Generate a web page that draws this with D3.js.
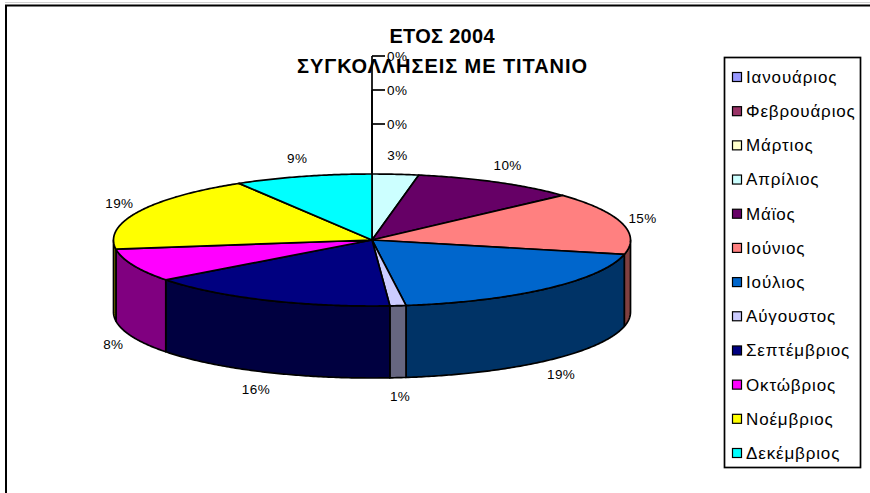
<!DOCTYPE html>
<html><head><meta charset="utf-8">
<script src="https://cdn.jsdelivr.net/npm/d3@7"></script>
<style>html,body{margin:0;padding:0;background:#fff;}svg{display:block;}</style>
</head><body>
<svg id="chart" width="870" height="493"></svg>
<script>
// ---- data ----
const months = ["Ιανουάριος","Φεβρουάριος","Μάρτιος","Απρίλιος","Μάϊος","Ιούνιος","Ιούλιος","Αύγουστος","Σεπτέμβριος","Οκτώβριος","Νοέμβριος","Δεκέμβριος"];
// shares in % (labels show rounded values)
const values = [0,0,0,2.9,10.3,15.3,19.4,1.0,15.8,8.1,18.6,8.6];
const colors = ["#9999FF","#993366","#FFFFCC","#CCFFFF","#660066","#FF8080","#0066CC","#CCCCFF","#000080","#FF00FF","#FFFF00","#00FFFF"];
const titleLines = ["ΕΤΟΣ 2004","ΣΥΓΚΟΛΛΗΣΕΙΣ ΜΕ ΤΙΤΑΝΙΟ"];

// ---- layout ----
const svg = d3.select("#chart");
const font = "'Liberation Sans', Arial, sans-serif";
const cx = 372, cy = 240, rx = 258.5, ry = 66, depth = 72;

// outer chart frame
svg.append("line").attr("x1",5).attr("x2",870).attr("y1",2.5).attr("y2",2.5).attr("stroke","#d0d0d0").attr("stroke-width",1);
svg.append("rect").attr("x",6).attr("y",5.5).attr("width",900).attr("height",520)
  .attr("fill","none").attr("stroke","#000").attr("stroke-width",2);

// title
const titleW = [105, 290];
svg.append("g").selectAll("text").data(titleLines).join("text")
  .attr("x",442).attr("y",(d,i)=>43+i*30).attr("text-anchor","middle")
  .attr("font-family",font).attr("font-weight","bold").attr("font-size",20)
  .attr("textLength",(d,i)=>titleW[i]).attr("lengthAdjust","spacing")
  .text(d=>d);

const pie = d3.pie().sort(null).value(d=>d).startAngle(0).endAngle(2*Math.PI);
const arcs = pie(values).map((a,i)=>({...a, i}));

const ex = t => cx + rx*Math.sin(t);
const ey = t => cy - ry*Math.cos(t);
function arcPts(a,b,dy){
  const n = Math.max(2, Math.ceil(Math.abs(b-a)/0.01));
  const pts=[];
  for(let k=0;k<=n;k++){const t=a+(b-a)*k/n; pts.push([ex(t), ey(t)+dy]);}
  return pts;
}
const line = d3.line();
const darker = c => { const r=d3.rgb(c); return d3.rgb(r.r/2, r.g/2, r.b/2).toString(); };

// side walls (front half only)
const gSide = svg.append("g");
arcs.forEach(a=>{
  if(a.value<=0) return;
  const s = Math.max(a.startAngle, Math.PI/2), e = Math.min(a.endAngle, 3*Math.PI/2);
  if(s>=e) return;
  const pts = arcPts(s,e,0).concat(arcPts(e,s,depth));
  gSide.append("path").attr("d", line(pts)+"Z")
    .attr("fill", darker(colors[a.i])).attr("stroke","#000").attr("stroke-width",1.7).attr("stroke-linejoin","round");
});

// top faces
const gTop = svg.append("g");
arcs.forEach(a=>{
  if(a.value<=0) return;
  const pts = [[cx,cy]].concat(arcPts(a.startAngle,a.endAngle,0));
  gTop.append("path").attr("d", line(pts)+"Z")
    .attr("fill", colors[a.i]).attr("stroke","#000").attr("stroke-width",1.7).attr("stroke-linejoin","round");
});

// labels
const gLab = svg.append("g").attr("font-family",font).attr("font-size",13.5).attr("letter-spacing",0.4).attr("fill","#000");
const LRx = 280, LRy = 85;
let zeroIdx = 0;
const zeroCount = values.filter(v=>v===0).length;
arcs.forEach(a=>{
  const txt = Math.round(a.value)+"%";
  if(a.value===0){
    const k = zeroCount-1-zeroIdx; zeroIdx++;
    const y = ey(0) - 50 - k*34;
    gLab.append("line").attr("x1",cx).attr("x2",cx+13).attr("y1",y).attr("y2",y).attr("stroke","#000").attr("stroke-width",1.7);
    gLab.append("line").attr("x1",cx).attr("x2",cx).attr("y1",ey(0)).attr("y2",y).attr("stroke","#000").attr("stroke-width",1.7);
    gLab.append("text").attr("x",cx+15).attr("y",y).attr("dy","0.35em").text(txt);
    return;
  }
  const m = (a.startAngle+a.endAngle)/2;
  const x = cx + LRx*Math.sin(m);
  const y = cy - LRy*Math.cos(m) + (Math.cos(m)<0 ? depth : 0);
  gLab.append("text").attr("x",x).attr("y",y).attr("dy","0.35em").attr("text-anchor","middle").text(txt);
});

// legend
const lg = svg.append("g");
lg.append("rect").attr("x",724.5).attr("y",57.5).attr("width",136).attr("height",410)
  .attr("fill","#fff").attr("stroke","#000").attr("stroke-width",1.7);
const rowY = d3.scalePoint().domain(d3.range(months.length)).range([77,453]);
const rows = lg.selectAll("g.row").data(months).join("g").attr("transform",(d,i)=>`translate(0,${rowY(i)})`);
rows.append("rect").attr("x",732.5).attr("y",-4.5).attr("width",9).attr("height",9)
  .attr("fill",(d,i)=>colors[i]).attr("stroke","#000").attr("stroke-width",1.2);
rows.append("text").attr("x",746).attr("dy","0.35em").attr("font-family",font).attr("font-size",17)
  .attr("letter-spacing",0.85).text(d=>d);
</script>
</body></html>
